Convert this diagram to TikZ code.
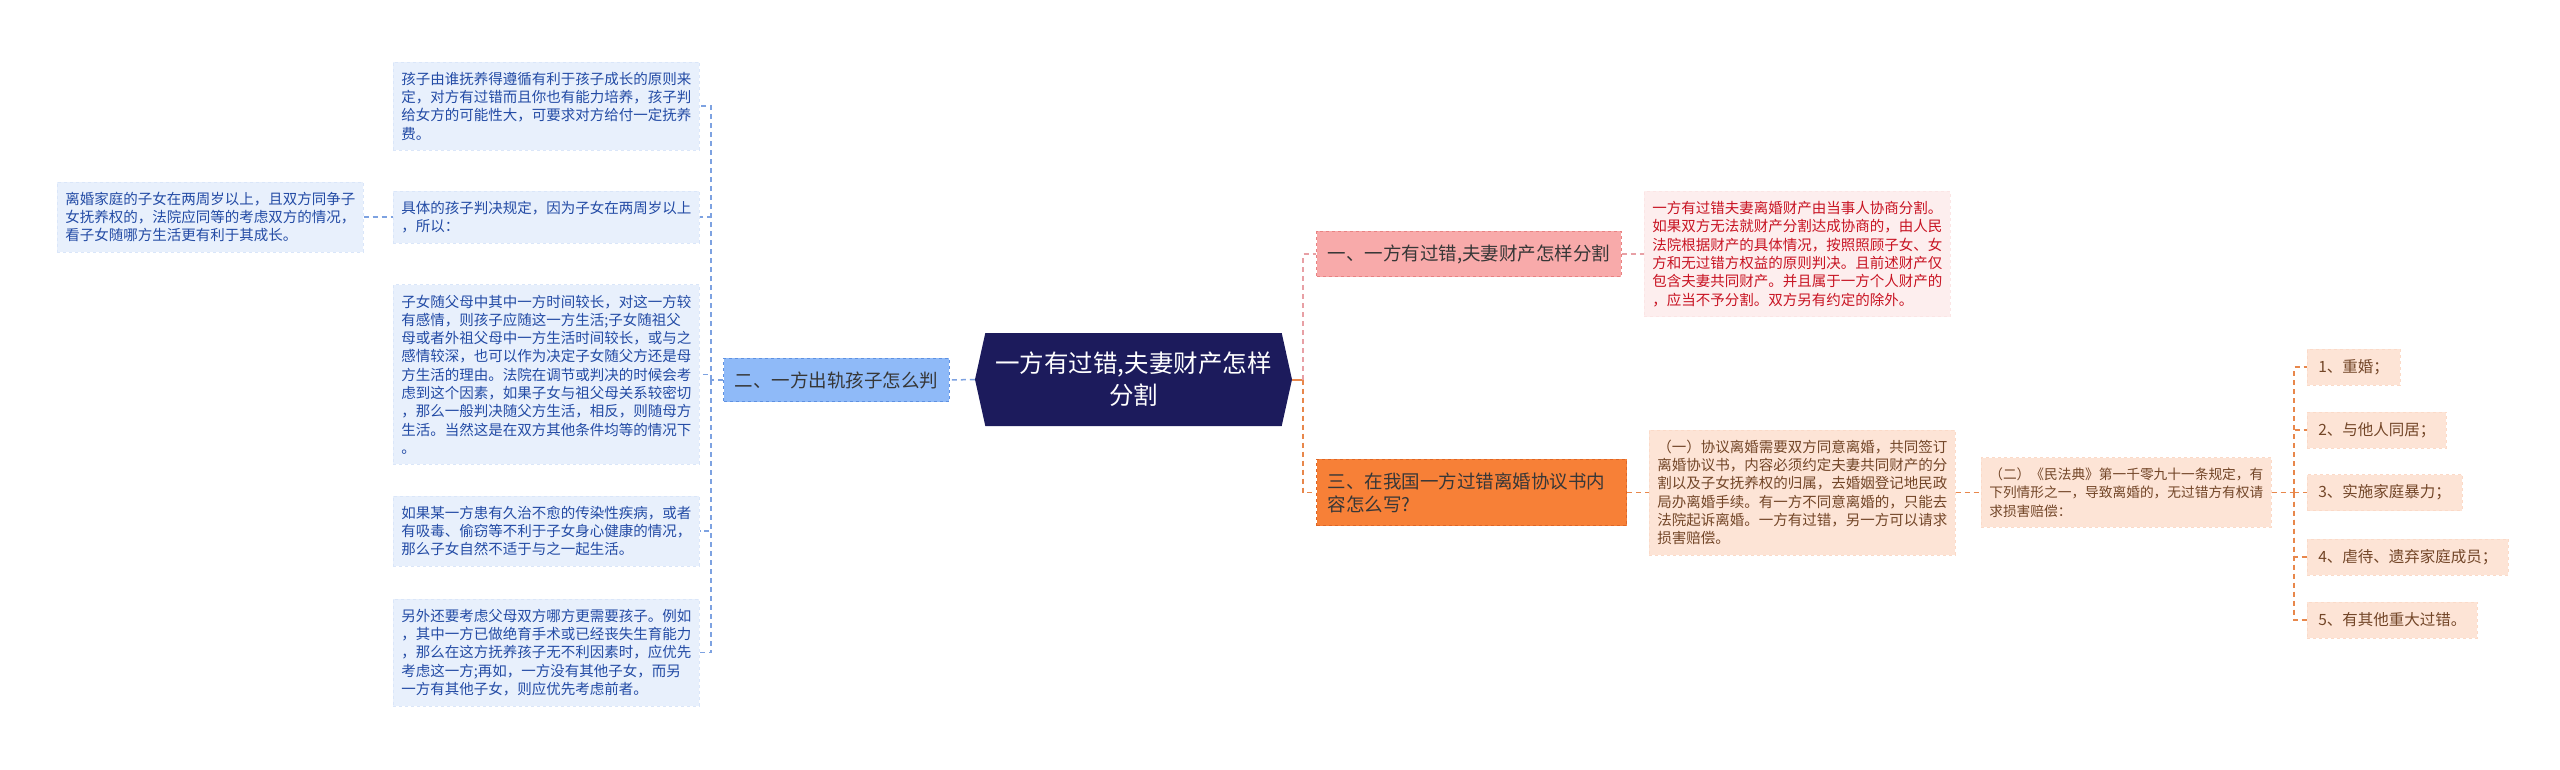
\documentclass[tikz,border=0pt]{standalone}
\usepackage{fontspec}
\setmainfont{Noto Sans CJK SC}
\usepackage{tikz}
\usetikzlibrary{shapes.symbols}

\definecolor{hubnavy}{RGB}{28,27,92}
\definecolor{bluefill}{RGB}{143,186,248}
\definecolor{blueedge}{RGB}{95,145,225}
\definecolor{blueleaf}{RGB}{232,240,252}
\definecolor{bluetext}{RGB}{35,75,165}
\definecolor{blueline}{RGB}{125,162,225}
\definecolor{pinkfill}{RGB}{248,170,170}
\definecolor{pinkedge}{RGB}{232,130,130}
\definecolor{pinkleaf}{RGB}{253,238,238}
\definecolor{pinktext}{RGB}{200,20,35}
\definecolor{pinkline}{RGB}{232,160,165}
\definecolor{orangefill}{RGB}{247,128,55}
\definecolor{orangeedge}{RGB}{222,102,38}
\definecolor{orangeleaf}{RGB}{253,228,214}
\definecolor{orangetext}{RGB}{115,70,40}
\definecolor{orangeline}{RGB}{232,135,75}
\definecolor{branchtext}{RGB}{55,55,55}

\begin{document}
\begin{tikzpicture}[
    x=1pt,y=-1pt,
    hub/.style={signal,signal to=west and east,signal pointer angle=155,
      fill=hubnavy,text=white,align=center,inner sep=0pt,
      minimum width=317pt,minimum height=93pt,
      font=\fontsize{24.5}{32}\selectfont},
    branch/.style={draw,dashed,line width=1pt,anchor=west,align=left,
      inner xsep=11pt,inner ysep=13pt,text=branchtext,
      font=\fontsize{18.5}{23}\selectfont},
    leaf/.style={draw,dashed,line width=0.6pt,anchor=west,align=left,
      text width=290pt,inner xsep=8pt,inner ysep=10pt,
      font=\fontsize{14.5}{18.3}\selectfont},
    blueleaf/.style={leaf,fill=blueleaf,draw=blueleaf!90!blueedge,text=bluetext},
    pinkleaf/.style={leaf,fill=pinkleaf,draw=pinkleaf!92!pinkedge,text=pinktext},
    orangeleaf/.style={leaf,fill=orangeleaf,draw=orangeleaf!92!orangeedge,text=orangetext},
    item/.style={draw,dashed,line width=0.6pt,anchor=west,
      fill=orangeleaf,draw=orangeleaf!92!orangeedge,text=orangetext,
      inner xsep=11pt,minimum height=36pt,
      font=\fontsize{15.5}{18.3}\selectfont},
    bluelink/.style={draw=blueline,dashed,dash pattern=on 5pt off 4pt,line width=1.5pt},
    pinklink/.style={draw=pinkline,dashed,dash pattern=on 5pt off 4pt,line width=1.5pt},
    orangelink/.style={draw=orangeline,dashed,dash pattern=on 5pt off 4pt,line width=1.5pt},
    stub/.style={draw=orangeline,line width=2pt}
  ]
    \useasboundingbox[fill=white] (0,0) rectangle (2560,769);

    \node[hub] (hub) at (1133.5,379.5) {一方有过错,夫妻财产怎样\\分割};

    \node[branch,fill=bluefill,draw=blueedge] (b2) at (723,380) {二、一方出轨孩子怎么判};
    \node[blueleaf] (l1) at (393,106) {孩子由谁抚养得遵循有利于孩子成长的原则来\\定，对方有过错而且你也有能力培养，孩子判\\给女方的可能性大，可要求对方给付一定抚养\\费。};
    \node[blueleaf] (l2) at (393,217) {具体的孩子判决规定，因为子女在两周岁以上\\，所以：};
    \node[blueleaf] (l2a) at (57,217) {离婚家庭的子女在两周岁以上，且双方同争子\\女抚养权的，法院应同等的考虑双方的情况，\\看子女随哪方生活更有利于其成长。};
    \node[blueleaf] (l3) at (393,374.5) {子女随父母中其中一方时间较长，对这一方较\\有感情，则孩子应随这一方生活;子女随祖父\\母或者外祖父母中一方生活时间较长，或与之\\感情较深，也可以作为决定子女随父方还是母\\方生活的理由。法院在调节或判决的时候会考\\虑到这个因素，如果子女与祖父母关系较密切\\，那么一般判决随父方生活，相反，则随母方\\生活。当然这是在双方其他条件均等的情况下\\。};
    \node[blueleaf] (l4) at (393,531) {如果某一方患有久治不愈的传染性疾病，或者\\有吸毒、偷窃等不利于子女身心健康的情况，\\那么子女自然不适于与之一起生活。};
    \node[blueleaf] (l5) at (393,652.5) {另外还要考虑父母双方哪方更需要孩子。例如\\，其中一方已做绝育手术或已经丧失生育能力\\，那么在这方抚养孩子无不利因素时，应优先\\考虑这一方;再如，一方没有其他子女，而另\\一方有其他子女，则应优先考虑前者。};

    \node[branch,fill=pinkfill,draw=pinkedge] (b1) at (1316,254) {一、一方有过错,夫妻财产怎样分割};
    \node[pinkleaf] (p1) at (1644,254) {一方有过错夫妻离婚财产由当事人协商分割。\\如果双方无法就财产分割达成协商的，由人民\\法院根据财产的具体情况，按照照顾子女、女\\方和无过错方权益的原则判决。且前述财产仅\\包含夫妻共同财产。并且属于一方个人财产的\\，应当不予分割。双方另有约定的除外。};

    \node[branch,fill=orangefill,draw=orangeedge,text width=288pt] (b3) at (1316,492.5) {三、在我国一方过错离婚协议书内\\容怎么写?};
    \node[orangeleaf] (o1) at (1649,492.5) {（一）协议离婚需要双方同意离婚，共同签订\\离婚协议书，内容必须约定夫妻共同财产的分\\割以及子女抚养权的归属，去婚姻登记地民政\\局办离婚手续。有一方不同意离婚的，只能去\\法院起诉离婚。一方有过错，另一方可以请求\\损害赔偿。};
    \node[orangeleaf,text width=274pt,font=\fontsize{13.7}{18.3}\selectfont] (o2) at (1981,492.5) {（二）《民法典》第一千零九十一条规定，有\\下列情形之一，导致离婚的，无过错方有权请\\求损害赔偿：};
    \node[item] (i1) at (2307,367) {1、重婚；};
    \node[item] (i2) at (2307,430) {2、与他人同居；};
    \node[item] (i3) at (2307,492.5) {3、实施家庭暴力；};
    \node[item] (i4) at (2307,557) {4、虐待、遗弃家庭成员；};
    \node[item] (i5) at (2307,620) {5、有其他重大过错。};

    \coordinate (lt) at (711,380);
    \coordinate (rt) at (1303,379.5);
    \coordinate (it) at (2294,492.5);

    \draw[bluelink] (hub.west) -- (b2.east);
    \draw[bluelink] (b2.west) -- (lt);
    \foreach \n in {1,...,5}
      \draw[bluelink] (lt) |- (l\n.east);
    \draw[bluelink] (l2a.east) -- (l2.west);

    \draw[stub] (hub.east) -- (rt);
    \draw[pinklink] (rt) |- (b1.west);
    \draw[pinklink] (b1.east) -- (p1.west);
    \draw[orangelink] (rt) |- (b3.west);
    \draw[orangelink] (b3.east) -- (o1.west);
    \draw[orangelink] (o1.east) -- (o2.west);
    \draw[orangelink] (o2.east) -- (it);
    \foreach \n in {1,...,5}
      \draw[orangelink] (it) |- (i\n.west);
  \end{tikzpicture}
\end{document}
